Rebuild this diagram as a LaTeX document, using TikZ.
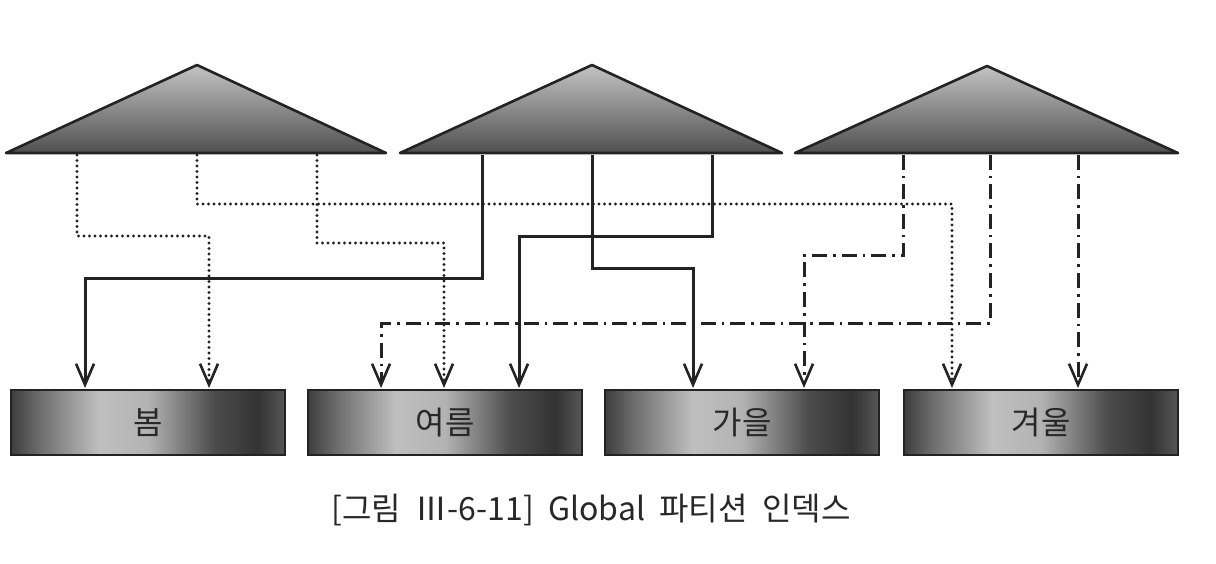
\documentclass[tikz,border=0pt]{standalone}
\usepackage{fontspec}
\newfontfamily\kr{Noto Sans CJK KR}
\usetikzlibrary{arrows.meta,calc}
\definecolor{edgec}{RGB}{35,35,35}
\definecolor{txtc}{RGB}{40,40,40}
\definecolor{trtop}{RGB}{195,195,195}
\definecolor{trbot}{RGB}{80,80,80}
\pgfdeclarehorizontalshading{boxshade}{100bp}{
  color(0bp)=(black!76);
  color(25bp)=(black!76);
  color(30bp)=(black!58);
  color(41bp)=(black!25);
  color(50bp)=(black!30);
  color(62bp)=(black!70);
  color(70bp)=(black!80);
  color(75bp)=(black!66);
  color(100bp)=(black!66)}
\tikzset{
  tri/.style={draw=edgec, line width=2.6pt, line join=round, top color=trtop, bottom color=trbot},
  season/.style={draw=edgec, line width=2.4pt, shading=boxshade, minimum width=274pt, minimum height=65pt,
    inner sep=0pt, anchor=north west, font=\kr\fontsize{32}{36}\selectfont, text=txtc},
  conn/.style={draw=edgec, line width=3pt, -{Straight Barb[length=21pt,width=18pt,line width=2.6pt]}},
  solidc/.style={conn},
  dotc/.style={conn, line width=3.4pt, line cap=round, dash pattern=on 0pt off 5.5pt},
  dashdotc/.style={conn, dash pattern=on 15pt off 6pt on 2.5pt off 6pt},
}
\begin{document}
\begin{tikzpicture}[x=1pt,y=-1pt]
\useasboundingbox (0,0) rectangle (1216,564);
% triangles
\path[tri] (6,153) -- (197,65) -- (386,153) -- cycle;
\path[tri] (400,153) -- (592,65) -- (782,153) -- cycle;
\path[tri] (795,153) -- (987,66) -- (1178,153) -- cycle;
% boxes
\node[season] (spring) at (10,389) {봄};
\node[season] (summer) at (307,389) {여름};
\node[season] (autumn) at (604,389) {가을};
\node[season] (winter) at (903,389) {겨울};
% start points on triangle bases
\coordinate (a1) at (77,155);
\coordinate (a2) at (197,155);
\coordinate (a3) at (317,155);
\coordinate (b1) at (482,155);
\coordinate (b2) at (592,155);
\coordinate (b3) at (712,155);
\coordinate (c1) at (903,155);
\coordinate (c2) at (990,155);
\coordinate (c3) at (1078,155);
% end points on box tops
\coordinate (e1) at (85,388);
\coordinate (e2) at (209,388);
\coordinate (e3) at (381,388);
\coordinate (e4) at (444,388);
\coordinate (e5) at (519,388);
\coordinate (e6) at (693,388);
\coordinate (e7) at (804,388);
\coordinate (e8) at (952,388);
\coordinate (e9) at (1078,388);
% dotted (first index)
\draw[dotc] (a1) -- (a1 |- 0,236) -| (e2);
\draw[dotc] (a2) -- (a2 |- 0,204) -| (e8);
\draw[dotc] (a3) -- (a3 |- 0,243) -| (e4);
% solid (second index)
\draw[solidc] (b1) -- (b1 |- 0,279) -| (e1);
\draw[solidc] (b3) -- (b3 |- 0,237) -| (e5);
\draw[solidc] (b2) -- (b2 |- 0,269) -| (e6);
% dash-dot (third index)
\draw[dashdotc] (c1) -- (c1 |- 0,256) -| (e7);
\draw[dashdotc] (c2) -- (c2 |- 0,323) -| (e3);
\draw[dashdotc] (c3) -- (e9);
% caption
\node[font=\kr\fontsize{32}{36}\selectfont, text=txtc] (cap) at (591,510) {[그림\ \ Ⅲ-6-11]\ \ Global\ \ 파티션\ \ 인덱스};
\end{tikzpicture}
\end{document}
